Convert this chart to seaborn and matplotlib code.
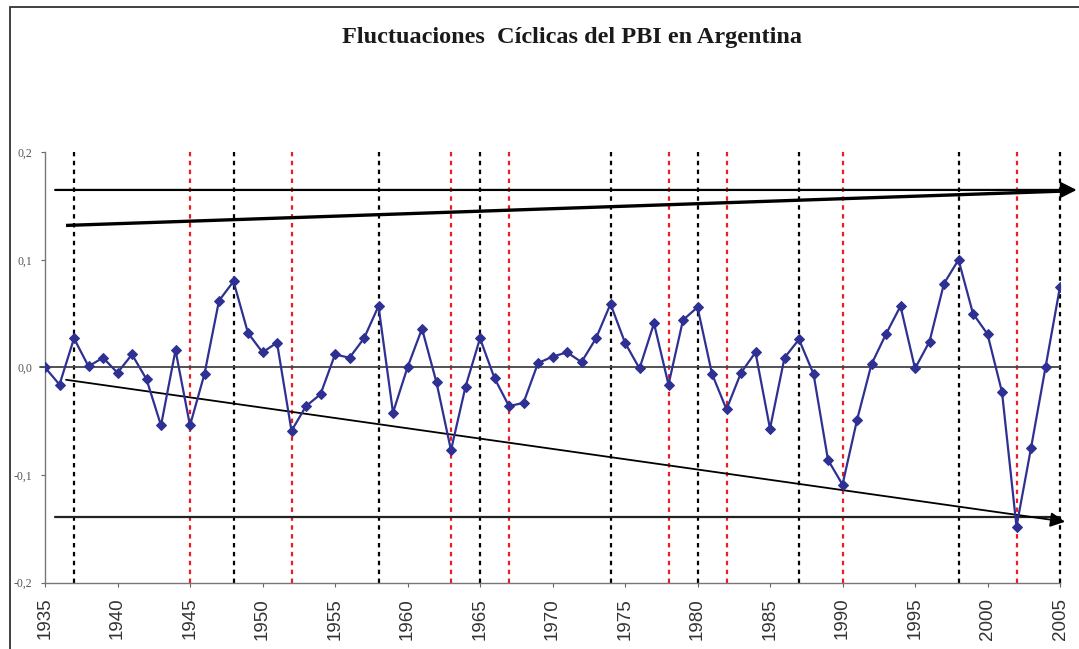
import numpy as np
import pandas as pd
import matplotlib
matplotlib.use('Agg')
import matplotlib.pyplot as plt
from matplotlib.patches import Rectangle
import seaborn as sns

# Cyclical component of GDP
years = list(range(1935, 2006))
ciclo = [0.000, -0.016, 0.027, 0.001, 0.009, -0.005, 0.012, -0.011, -0.054, 0.016,
         -0.054, -0.006, 0.062, 0.080, 0.032, 0.014, 0.023, -0.059, -0.036, -0.025,
         0.012, 0.009, 0.027, 0.057, -0.042, 0.000, 0.036, -0.014, -0.077, -0.018,
         0.027, -0.010, -0.036, -0.033, 0.004, 0.010, 0.014, 0.005, 0.027, 0.059,
         0.023, -0.001, 0.041, -0.016, 0.044, 0.056, -0.006, -0.039, -0.005, 0.014,
         -0.057, 0.009, 0.026, -0.006, -0.086, -0.109, -0.049, 0.003, 0.031, 0.057,
         -0.001, 0.024, 0.078, 0.100, 0.050, 0.031, -0.023, -0.148, -0.075, 0.000,
         0.075]

# peaks (black) and troughs (red) marked with dotted verticals
picos = [1937, 1948, 1958, 1965, 1974, 1980, 1987, 1998, 2005]
valles = [1945, 1952, 1963, 1967, 1978, 1982, 1990, 2002]

# envelope / trend lines: (x0, y0, x1, y1)
techo = (1935.7, 0.165, 2006.15, 0.165)
piso = (1935.7, -0.1394, 2005.35, -0.1394)
tend_sup = (1936.45, 0.132, 2005.4, 0.164)
tend_inf = (1936.45, -0.0115, 2005.35, -0.1435)

yticks = [0.2, 0.1, 0.0, -0.1, -0.2]
ytick_labels = ['0,2', '0,1', '0,0', '-0,1', '-0,2']
xticks = list(range(1935, 2006, 5))

df = pd.DataFrame({'anio': years, 'ciclo': ciclo})

sns.set_style('white')
plt.rcParams['font.family'] = ['Liberation Sans', 'DejaVu Sans']

W, H = 1079, 649
fig = plt.figure(figsize=(W / 100, H / 100), dpi=100)
ax = fig.add_axes([45 / W, 66.5 / H, (1060 - 45) / W, (582.5 - 152.3) / H])

# outer frame of the chart area
fig.add_artist(Rectangle((10 / W, -0.2), 1.2, 1.2 - 7 / H, transform=fig.transFigure,
                         fill=False, edgecolor='#333333', lw=1.3))

for x in picos:
    ax.plot([x, x], [-0.2, 0.2], color='black', lw=1.6, ls=(0, (2, 2)), clip_on=False, zorder=1)
for x in valles:
    ax.plot([x, x], [-0.2, 0.2], color='#ee1c24', lw=1.6, ls=(0, (2, 2)), clip_on=False, zorder=1)

# zero line
ax.plot([1934.65, 2005], [0, 0], color='#444444', lw=1.3, clip_on=False, zorder=2)

# horizontal envelopes
ax.annotate('', xy=(techo[2], techo[3]), xytext=(techo[0], techo[1]),
            arrowprops=dict(arrowstyle='-|>', color='black', lw=1.6, mutation_scale=24,
                            shrinkA=0, shrinkB=0), annotation_clip=False, zorder=3)
ax.plot([piso[0], piso[2]], [piso[1], piso[3]], color='#222222', lw=1.6, zorder=3)

# trend lines
ax.plot([tend_sup[0], tend_sup[2]], [tend_sup[1], tend_sup[3]], color='black', lw=2.4,
        solid_capstyle='butt', clip_on=False, zorder=3)
ax.annotate('', xy=(tend_inf[2], tend_inf[3]), xytext=(tend_inf[0], tend_inf[1]),
            arrowprops=dict(arrowstyle='-|>', color='black', lw=1.3, mutation_scale=22,
                            shrinkA=0, shrinkB=0), annotation_clip=False, zorder=3)

sns.lineplot(data=df, x='anio', y='ciclo', ax=ax, color='#2e3192', lw=1.6,
             marker='D', markersize=5.5, markeredgecolor='#2e3192', zorder=4)

ax.set_xlim(1935, 2005)
ax.set_ylim(-0.2, 0.2)
ax.set_xlabel('')
ax.set_ylabel('')

ax.set_yticks(yticks)
ax.set_yticklabels(ytick_labels, family='Liberation Serif', fontsize=8.5, color='#555555')
ax.set_xticks(xticks)
ax.set_xticklabels([str(x) for x in xticks], rotation=90, fontsize=13.5, color='#333333')
ax.tick_params(axis='y', direction='out', length=3, width=0.8, color='#666666', pad=6, left=True)
ax.tick_params(axis='x', direction='out', length=3, width=0.8, color='#666666', pad=8, bottom=True)

for s in ['top', 'right']:
    ax.spines[s].set_visible(False)
for s in ['left', 'bottom']:
    ax.spines[s].set_color('#777777')
    ax.spines[s].set_linewidth(1.0)

fig.text(0.530, 1 - 38 / H, 'Fluctuaciones  Cíclicas del PBI en Argentina',
         ha='center', va='center', family='Liberation Serif', fontweight='bold',
         fontsize=17.5, color='#1a1a1a')

fig.savefig('out.png', dpi=100)
